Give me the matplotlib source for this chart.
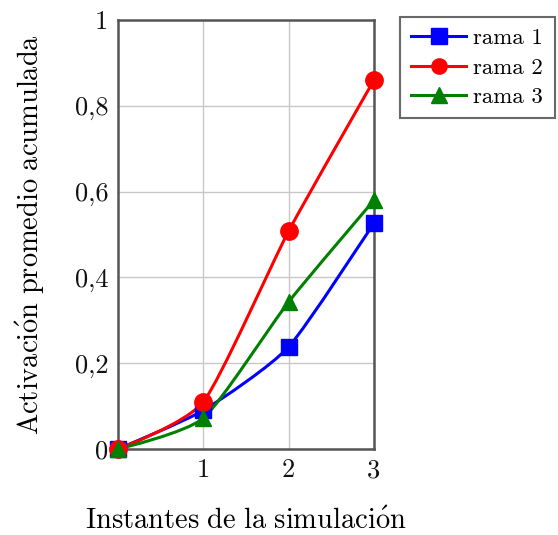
import matplotlib
matplotlib.use("Agg")
import matplotlib.pyplot as plt
from matplotlib.path import Path
from matplotlib.patches import PathPatch
from matplotlib.lines import Line2D
import numpy as np

plt.rcParams['font.family'] = ['cmr10', 'DejaVu Serif']
plt.rcParams['mathtext.fontset'] = 'cm'
plt.rcParams['axes.unicode_minus'] = False

x = [0, 1, 2, 3]
rama1 = [0.0, 0.09, 0.238, 0.527]
rama2 = [0.0, 0.11, 0.508, 0.86]
rama3 = [0.0, 0.072, 0.343, 0.58]
names = ['rama 1', 'rama 2', 'rama 3']
colors = ['#0000ff', '#ff0000', '#008000']
markers = ['s', 'o', '^']
yticks = [0, 0.2, 0.4, 0.6, 0.8, 1.0]
ytick_labels = ['0', '0,2', '0,4', '0,6', '0,8', '1']
xticks = [1, 2, 3]
xtick_labels = ['1', '2', '3']
ylabel = r'$\mathrm{Activaci\acute{o}n\ promedio\ acumulada}$'
xlabel = r'$\mathrm{Instantes\ de\ la\ simulaci\acute{o}n}$'

fig = plt.figure(figsize=(5.58, 5.35), dpi=100)
W, H = 558, 535
ax = fig.add_axes([118 / W, 1 - 449 / H, (374 - 118) / W, (449 - 20) / H])
ax.set_xlim(0, 3)
ax.set_ylim(0, 1)


def smooth_path(xs, ys, tension=0.3):
    pts = np.column_stack([xs, ys]).astype(float)
    n = len(pts)
    verts = [pts[0]]
    codes = [Path.MOVETO]
    f = tension / 3.0
    for i in range(n - 1):
        p0 = pts[i - 1] if i > 0 else pts[i]
        p1 = pts[i]
        p2 = pts[i + 1]
        p3 = pts[i + 2] if i + 2 < n else pts[i + 1]
        c1 = p1 + f * (p2 - p0) if i > 0 else p1
        c2 = p2 - f * (p3 - p1) if i + 2 < n else p2
        verts += [c1, c2, p2]
        codes += [Path.CURVE4] * 3
    return Path(verts, codes)


series = [rama1, rama2, rama3]
handles = []
for ys, c, m, nm in zip(series, colors, markers, names):
    patch = PathPatch(smooth_path(x, ys), facecolor='none', edgecolor=c, lw=2.2, zorder=3,
                      clip_on=False)
    ax.add_patch(patch)
    ms = 12 if m != 'o' else 12.5
    ax.plot(x, ys, linestyle='none', marker=m, color=c, markersize=ms, zorder=4, clip_on=False)
    handles.append(Line2D([], [], color=c, lw=2.2, marker=m, markersize=11))

ax.set_xticks(xticks)
ax.set_xticklabels(xtick_labels)
ax.set_yticks(yticks)
ax.set_yticklabels(ytick_labels)
ax.grid(True, color='#c8c8c8', lw=1.0)
ax.set_axisbelow(True)
ax.tick_params(axis='both', direction='in', length=0, labelsize=19, colors='#111111', pad=7)
for s in ax.spines.values():
    s.set_color('#555555')
    s.set_linewidth(1.8)

ax.set_ylabel(ylabel, fontsize=20.5, labelpad=20)
ax.set_xlabel(xlabel, fontsize=20.5, labelpad=18)

leg = fig.legend(handles=handles, labels=names, loc='upper left',
                 bbox_to_anchor=(400 / W, 1 - 17 / H), frameon=True, fancybox=False,
                 fontsize=16.5, handlelength=2.4, handletextpad=0.3, borderpad=0.5,
                 labelspacing=0.4, borderaxespad=0)
leg.get_frame().set_edgecolor('#444444')
leg.get_frame().set_linewidth(1.5)

fig.savefig('out.png', dpi=100)
